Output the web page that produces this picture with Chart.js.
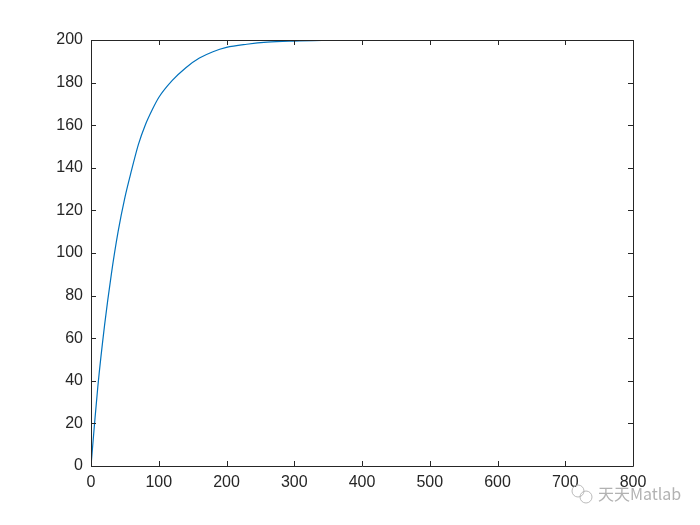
<!DOCTYPE html>
<html>
<head>
<meta charset="utf-8">
<script src="https://cdn.jsdelivr.net/npm/chart.js@4.4.1/dist/chart.umd.min.js"></script>
<style>
  html, body { margin: 0; padding: 0; background: #fff; }
  #wrap { width: 700px; height: 525px; }
</style>
</head>
<body>
<div id="wrap"><canvas id="myChart" width="700" height="525"></canvas></div>
<script>
// Curve values
const xValues = [0, 5, 10, 20, 30, 40, 50, 60, 70, 80, 90, 100, 120, 140, 160, 180, 200, 230, 260, 300, 350, 400, 500, 600, 750];
const yValues = [0, 19, 37, 66, 90, 110, 126, 139, 151, 160, 167, 173, 181, 187, 191.5, 194.5, 196.5, 198, 199, 199.5, 199.8, 200, 200, 200, 200];

// Axis ticks
const xTicks = [0, 100, 200, 300, 400, 500, 600, 700, 800];
const yTicks = [0, 20, 40, 60, 80, 100, 120, 140, 160, 180, 200];

const points = xValues.map((x, i) => ({ x: x, y: yValues[i] }));

// MATLAB-like box with inward ticks on all four sides
const boxPlugin = {
    id: 'matlabBox',
    afterDraw(chart) {
        const ctx = chart.ctx;
        const a = chart.chartArea;
        const xs = chart.scales.x;
        const ys = chart.scales.y;
        ctx.save();
        ctx.strokeStyle = '#262626';
        ctx.lineWidth = 1;
        ctx.beginPath();
        ctx.rect(Math.round(a.left) + 0.5, Math.round(a.top) + 0.5,
                 Math.round(a.right - a.left), Math.round(a.bottom - a.top));
        xTicks.forEach(v => {
            const px = Math.round(xs.getPixelForValue(v)) + 0.5;
            ctx.moveTo(px, a.bottom); ctx.lineTo(px, a.bottom - 5);
            ctx.moveTo(px, a.top); ctx.lineTo(px, a.top + 5);
        });
        yTicks.forEach(v => {
            const py = Math.round(ys.getPixelForValue(v)) + 0.5;
            ctx.moveTo(a.left, py); ctx.lineTo(a.left + 5, py);
            ctx.moveTo(a.right, py); ctx.lineTo(a.right - 5, py);
        });
        ctx.stroke();

        // watermark
        ctx.fillStyle = 'rgba(170,170,170,0.9)';
        ctx.font = '16px "Noto Sans CJK SC", Arial, sans-serif';
        ctx.textBaseline = 'middle';
        ctx.fillText('天天Matlab', 598, 494);
        ctx.strokeStyle = 'rgba(180,180,180,0.9)';
        ctx.beginPath();
        ctx.arc(578, 491, 6, 0, Math.PI * 2);
        ctx.moveTo(592, 497);
        ctx.arc(586, 497, 6, 0, Math.PI * 2);
        ctx.stroke();
        ctx.restore();
    }
};

new Chart(document.getElementById('myChart').getContext('2d'), {
    type: 'line',
    data: {
        datasets: [{
            data: points,
            borderColor: '#0072BD',
            borderWidth: 1.2,
            pointRadius: 0,
            fill: false,
            cubicInterpolationMode: 'monotone'
        }]
    },
    options: {
        responsive: false,
        animation: false,
        layout: { padding: { top: 40, right: 67, left: 0, bottom: 0 } },
        plugins: { legend: { display: false }, tooltip: { enabled: false } },
        scales: {
            x: {
                type: 'linear',
                min: 0, max: 800,
                afterBuildTicks(scale) { scale.ticks = xTicks.map(v => ({ value: v })); },
                afterFit(scale) { scale.height = 59; },
                grid: { display: false, drawTicks: false },
                border: { display: false },
                ticks: { color: '#262626', font: { family: 'Arial, "Liberation Sans"', size: 16 }, padding: 7, maxRotation: 0 }
            },
            y: {
                type: 'linear',
                min: 0, max: 200,
                afterBuildTicks(scale) { scale.ticks = yTicks.map(v => ({ value: v })); },
                afterFit(scale) { scale.width = 91; },
                grid: { display: false, drawTicks: false },
                border: { display: false },
                ticks: { color: '#262626', font: { family: 'Arial, "Liberation Sans"', size: 16 }, padding: 8 }
            }
        }
    },
    plugins: [boxPlugin]
});
</script>
</body>
</html>
